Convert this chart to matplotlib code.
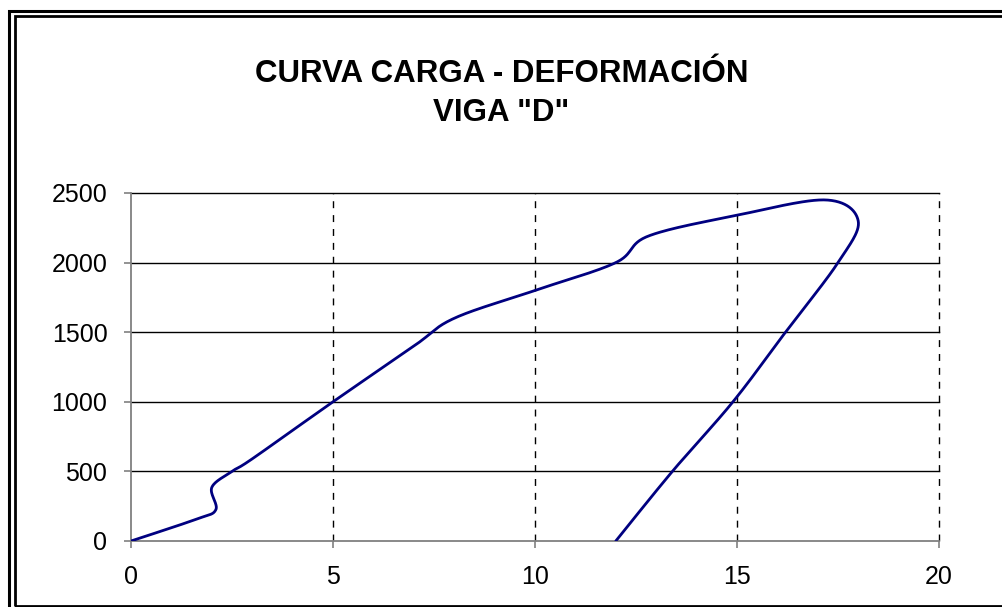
import numpy as np
import matplotlib
matplotlib.use('Agg')
import matplotlib.pyplot as plt
from matplotlib.patches import Rectangle

# datos (deformacion, carga)
deformacion = [0, 1.6, 2.1, 2.0, 2.5, 3.0, 5.0, 7.0, 8.0, 10.0, 12.0, 12.8, 15.0, 17.2, 18.0, 17.5, 16.2, 14.9, 13.4, 12.0]
carga = [0, 155, 225, 385, 500, 590, 1000, 1400, 1600, 1800, 2000, 2190, 2340, 2450, 2300, 2000, 1500, 1000, 500, 0]

x_ticks = [0, 5, 10, 15, 20]
y_ticks = [0, 500, 1000, 1500, 2000, 2500]

plt.rcParams['font.family'] = ['Liberation Sans', 'DejaVu Sans']


def suavizar(xs, ys, sx, sy, n=30):
    # curva suavizada tipo Excel (bezier con puntos vecinos)
    p = np.column_stack([np.array(xs) * sx, np.array(ys) * sy])
    p = np.vstack([p[0], p, p[-1]])
    out = []
    t = np.linspace(0, 1, n)[:, None]
    for i in range(1, len(p) - 2):
        p0, p1, p2, p3 = p[i - 1], p[i], p[i + 1], p[i + 2]
        c1 = p1 + (p2 - p0) / 6
        c2 = p2 - (p3 - p1) / 6
        seg = ((1 - t) ** 3) * p1 + 3 * ((1 - t) ** 2) * t * c1 + 3 * (1 - t) * t ** 2 * c2 + t ** 3 * p2
        out.append(seg)
    out = np.vstack(out)
    return out[:, 0] / sx, out[:, 1] / sy


fig = plt.figure(figsize=(10.03, 6.07), dpi=100)

# marco doble
fig.patches.append(Rectangle((9.5 / 1003, -0.05), 1.1, 1 - 10.5 / 607 + 0.05, transform=fig.transFigure,
                             fill=False, lw=2.2, edgecolor='black'))
fig.patches.append(Rectangle((15.5 / 1003, 1 - 605.5 / 607), 1.1, (605.5 - 16) / 607, transform=fig.transFigure,
                             fill=False, lw=2.0, edgecolor='black'))

ax = fig.add_axes([131 / 1003, 66 / 607, 808 / 1003, 348 / 607])

xs, ys = suavizar(deformacion, carga, 808 / 20, 348 / 2500)
ax.plot(xs, ys, color='#000080', lw=2.0, solid_capstyle='round', zorder=3)

ax.set_xlim(0, 20)
ax.set_ylim(0, 2500)
ax.set_xticks(x_ticks)
ax.set_yticks(y_ticks)

for v in y_ticks[1:]:
    ax.axhline(v, color='black', lw=1.0, zorder=1, clip_on=False)
for v in x_ticks[1:]:
    ax.axvline(v, color='black', lw=1.0, ls=(0, (5, 5)), zorder=1, clip_on=False)

for s in ['top', 'right']:
    ax.spines[s].set_visible(False)
for s in ['left', 'bottom']:
    ax.spines[s].set_color('#808080')
    ax.spines[s].set_linewidth(1.3)

ax.tick_params(direction='out', length=5, width=1.2, color='#808080', labelsize=18, pad=12)

fig.text(0.5, 1 - 73.5 / 607, 'CURVA CARGA - DEFORMACIÓN', ha='center', va='center',
         fontsize=22.5, fontweight='bold')
fig.text(0.5, 1 - 113 / 607, 'VIGA "D"', ha='center', va='center',
         fontsize=22.5, fontweight='bold')

plt.savefig('out.png', dpi=100)
plt.close()
